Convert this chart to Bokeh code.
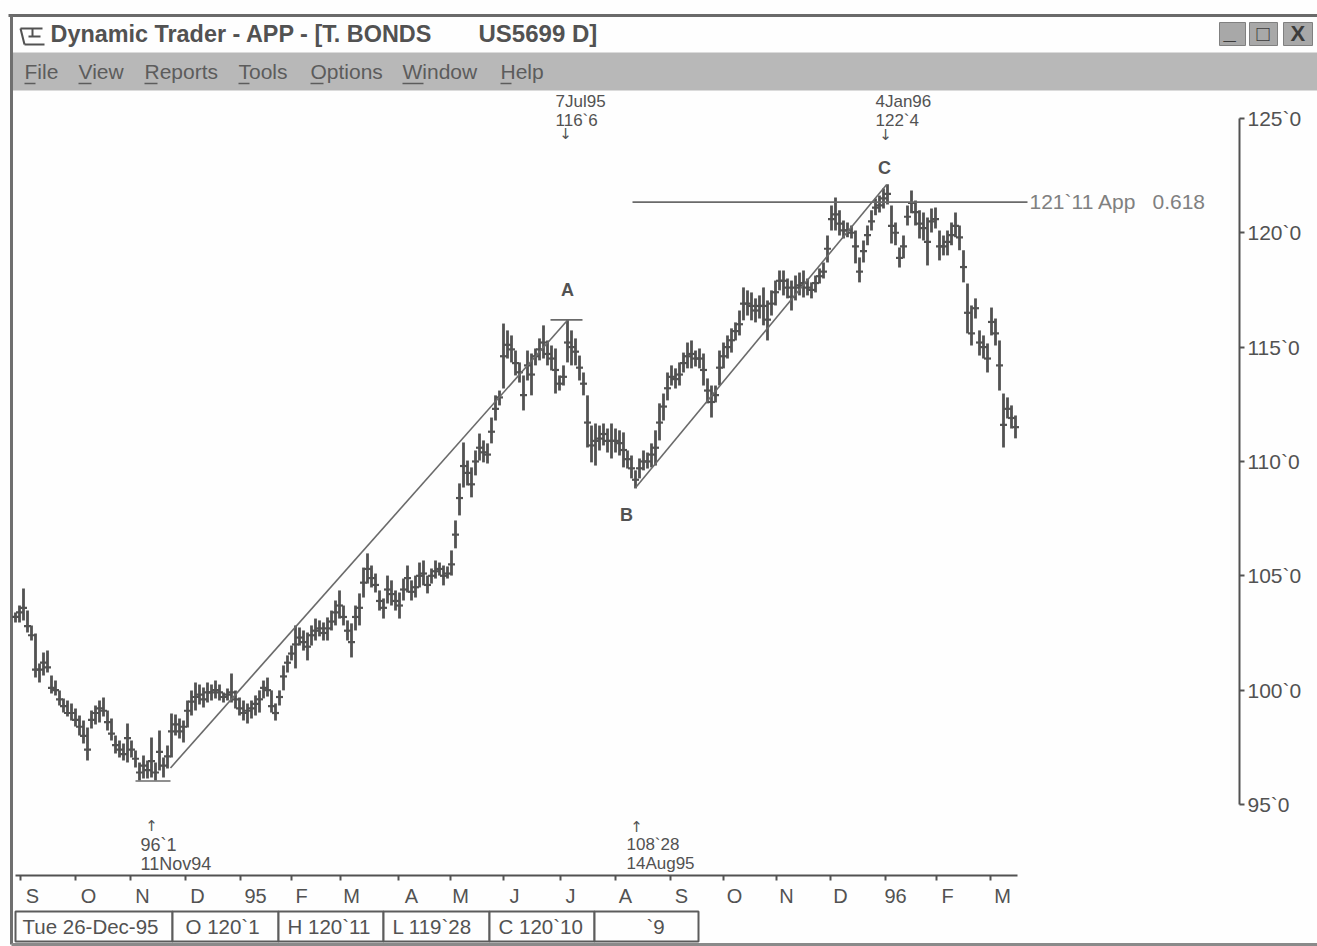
from bokeh.plotting import figure
from bokeh.models import Range1d, LinearAxis, FixedTicker
from bokeh.core.properties import value
from bokeh.embed import file_html
from bokeh.resources import INLINE

highs = [103.39,103.70,104.45,103.48,102.83,102.48,101.17,101.65,101.73,100.64,100.42,99.99,99.64,99.55,99.42,99.20,98.89,98.67,98.37,99.11,99.33,99.55,99.68,99.11,98.76,98.02,97.80,97.67,98.54,97.80,97.36,96.84,97.14,96.92,97.93,96.84,98.24,97.06,97.58,98.98,98.94,98.76,98.67,99.55,99.99,100.33,100.25,100.12,100.33,100.25,100.42,100.25,99.90,100.07,100.73,99.99,99.68,99.55,99.42,99.55,99.77,99.99,100.42,100.55,99.99,99.42,99.99,101.08,101.52,101.95,102.83,102.74,102.61,102.52,102.83,103.13,103.05,102.96,103.18,103.48,103.92,104.36,103.70,103.05,102.92,103.70,104.23,105.36,105.98,105.45,105.10,104.36,104.01,105.01,104.80,104.36,104.27,104.88,105.45,104.80,105.01,105.58,105.67,105.01,105.32,105.67,105.58,105.45,105.41,106.11,107.42,109.04,110.83,110.04,109.74,110.48,111.22,110.92,110.79,111.92,112.89,113.10,116.03,115.73,115.51,114.85,114.33,113.76,114.85,114.72,114.94,115.38,115.95,115.29,115.07,114.94,113.76,114.20,116.21,115.73,115.38,114.63,113.89,112.89,111.57,111.66,111.57,111.66,111.44,111.66,111.44,111.36,111.27,110.48,110.26,109.61,110.13,110.48,110.39,110.79,111.36,112.54,112.97,113.89,114.20,114.07,114.33,114.76,115.20,115.29,114.85,114.94,114.72,113.63,113.32,113.32,114.85,115.20,115.51,115.82,116.08,116.60,117.61,117.48,117.39,117.13,117.26,117.61,117.04,117.48,117.91,118.35,118.35,118.00,117.91,118.13,118.26,118.35,118.00,117.83,118.13,118.44,118.70,119.88,121.19,121.54,120.98,120.54,120.45,120.32,120.10,118.92,119.66,120.32,120.98,121.50,121.63,121.94,122.12,121.19,120.45,119.36,119.88,121.19,121.85,121.41,120.98,120.89,120.67,121.06,121.10,120.10,119.88,120.10,120.45,120.89,120.32,119.23,117.78,116.82,117.13,115.73,115.51,115.16,116.73,116.25,115.29,112.97,112.80,112.45,112.01]
lows = [102.96,102.96,103.05,102.52,102.17,100.55,100.33,100.64,100.77,99.85,99.77,99.33,99.02,98.85,98.67,98.41,98.02,97.67,96.92,98.32,98.50,98.59,98.85,98.24,97.80,97.23,97.06,96.92,96.84,97.06,96.62,96.05,96.14,96.14,96.18,96.05,96.49,96.18,96.57,97.06,98.02,97.89,97.71,98.37,98.89,99.11,99.37,99.24,99.46,99.55,99.64,99.55,99.46,99.55,99.46,99.20,98.89,98.67,98.54,98.76,98.89,99.02,99.64,99.72,99.02,98.67,99.33,99.99,100.77,101.30,100.95,101.95,101.73,101.30,101.95,102.17,102.35,102.17,102.17,102.61,102.83,103.13,102.83,102.17,101.43,102.61,102.83,104.05,104.66,104.49,104.27,103.48,103.13,103.79,103.70,103.48,103.13,103.92,104.27,103.92,104.05,104.49,104.58,104.23,104.66,104.88,105.01,104.58,104.88,105.01,106.20,107.64,108.86,108.95,108.43,109.39,110.04,109.96,109.91,110.79,111.79,112.45,113.19,114.50,114.33,113.76,113.45,112.23,113.54,112.89,114.20,114.42,114.50,114.20,113.98,112.97,113.10,113.32,114.33,114.20,114.20,113.54,112.89,110.61,109.96,109.82,110.48,110.70,110.39,110.13,110.39,110.26,109.74,109.69,109.26,108.82,109.26,109.61,109.69,109.74,109.82,110.92,111.79,112.67,113.32,113.19,113.32,113.89,114.07,114.07,114.15,114.07,113.32,112.54,111.92,112.58,113.32,114.07,114.50,114.76,115.29,115.51,116.17,116.38,116.17,116.08,116.25,115.95,115.29,116.38,116.82,117.48,117.26,117.13,116.60,117.04,117.26,117.17,117.26,117.13,117.39,117.78,118.00,118.70,120.10,120.10,119.88,119.75,119.80,119.75,118.66,117.83,118.70,119.45,120.10,120.76,120.89,121.06,121.24,119.53,119.45,118.48,118.88,120.32,120.85,120.32,119.75,119.66,118.57,120.01,120.19,118.79,119.01,119.01,119.45,119.80,119.23,117.83,115.60,115.07,116.25,114.63,114.50,113.89,115.51,115.07,113.10,110.61,111.88,111.44,111.01]
closes = [103.2,103.4,103.6,102.8,102.4,100.9,100.9,101.2,101.0,100.1,
          100.0,99.6,99.3,99.0,99.0,98.7,98.4,98.0,97.4,98.7,
          99.0,99.2,99.1,98.6,98.1,97.6,97.4,97.2,97.9,97.4,
          97.0,96.4,96.7,96.5,96.9,96.4,97.3,96.7,97.1,98.2,
          98.5,98.2,98.4,99.1,99.5,99.7,99.8,99.6,99.9,99.9,
          100.0,99.9,99.7,99.8,99.9,99.6,99.2,99.0,99.1,99.2,
          99.4,99.6,100.1,100.0,99.3,99.0,99.7,100.6,101.2,101.6,
          102.0,102.3,102.1,101.9,102.4,102.6,102.7,102.5,102.7,103.0,
          103.4,103.7,103.2,102.6,102.1,103.2,103.6,104.7,105.3,104.9,
          104.6,103.9,103.6,104.4,104.2,103.9,103.7,104.4,104.9,104.3,
          104.5,105.0,105.1,104.6,105.0,105.2,105.3,105.0,105.1,105.5,
          106.8,108.4,109.8,109.5,109.0,110.0,110.6,110.4,110.3,111.3,
          112.3,112.8,114.6,115.1,114.9,114.3,113.9,112.9,114.2,113.8,
          114.6,114.9,115.2,114.7,114.5,114.0,113.4,113.7,115.2,115.0,
          114.8,114.1,113.4,111.7,110.7,110.9,111.0,111.2,110.9,110.9,
          110.9,110.8,110.5,110.1,109.7,109.2,109.7,110.0,110.0,110.3,
          110.6,111.7,112.4,113.2,113.7,113.6,113.8,114.3,114.6,114.7,
          114.5,114.5,114.0,113.1,112.6,112.9,114.1,114.6,115.0,115.3,
          115.7,116.0,116.9,116.9,116.8,116.6,116.8,116.8,116.2,116.9,
          117.4,117.9,117.9,117.6,117.2,117.6,117.7,117.8,117.6,117.5,
          117.8,118.1,118.3,119.3,120.6,120.8,120.4,120.1,120.1,120.0,
          119.4,118.3,119.2,119.9,120.5,121.1,121.2,121.5,121.7,120.3,
          120.0,118.9,119.4,120.7,121.3,120.9,120.4,120.2,119.6,120.5,
          120.6,119.4,119.4,119.6,119.9,120.3,119.8,118.5,116.5,115.6,
          116.7,115.2,115.0,114.5,116.1,115.6,114.2,111.6,112.3,111.9,
          111.5]
bars = list(range(len(highs)))

price_ticks = [95, 100, 105, 110, 115, 120, 125]
price_labels = ["95`0", "100`0", "105`0", "110`0", "115`0", "120`0", "125`0"]
month_ticks = [1.25,15,28.75,42.5,56.25,69,81.25,95.75,108.75,122,136.25,150,163.75,177,190.25,203.75,217.5,230.25,243.75]
month_centres = [4.25,18.25,31.75,45.5,60,71.5,84,99,111.25,124.75,138.75,152.5,166.5,179.75,192.75,206.25,220,233,246.75]
month_labels = ["S","O","N","D","95","F","M","A","M","J","J","A","S","O","N","D","96","F","M"]

trend_a_x = [38.75, 138]; trend_a_y = [96.6, 116.17]
trend_c_x = [155, 217.75]; trend_c_y = [108.85, 122.1]
low_x = [30, 38.75]; low_y = [96.03, 96.03]
a_x = [133.75, 141.75]; a_y = [116.19, 116.19]
app_x = [154.25, 253]; app_y = [121.34, 121.34]

INK = "#525252"
FONT = value("Liberation Sans")

W, H = 1317, 946
p = figure(width=W, height=H, toolbar_location=None, output_backend="svg",
           x_axis_type=None, y_axis_type=None, min_border=0,
           x_range=Range1d((0-15)/4, (W-15)/4),
           y_range=Range1d(95+(804-H)/22.87, 95+804/22.87),
           outline_line_color=None, background_fill_color="#fefefe",
           border_fill_color="#fefefe")
p.grid.visible = False
p.extra_x_ranges["win"] = Range1d(0, W)
p.extra_y_ranges["win"] = Range1d(H, 0)
WIN = dict(x_range_name="win", y_range_name="win")

# window chrome
p.quad(left=[11], right=[W], top=[52], bottom=[90], fill_color="#b8b8b8", line_color=None, **WIN)
p.segment(x0=[8], y0=[15], x1=[W], y1=[15], line_color="#6a6a6a", line_width=3, **WIN)
p.segment(x0=[11], y0=[15], x1=[11], y1=[944], line_color="#6f6f6f", line_width=3, **WIN)
p.segment(x0=[11], y0=[944], x1=[W], y1=[944], line_color="#8a8a8a", line_width=3, **WIN)
p.segment(x0=[20,20,24,32,28], y0=[28,28,44,28,36], x1=[42,24,44,32,40], y1=[28,44,44,36,36], line_color=INK, line_width=2, **WIN)

def text(xs, ys, ts, size, color=INK, style="normal", align="left", font=FONT):
    p.text(x=xs, y=ys, text=ts, text_font=font, text_font_size=f"{size}px",
           text_font_style=style, text_color=color, text_align=align,
           text_baseline="middle", **WIN)

text([50], [33], ["Dynamic Trader - APP - [T. BONDS"], 23.4, style="bold")
text([478], [33], ["US5699 D]"], 24, style="bold")
text([24,78,144,238,310,402,500], [71]*7, ["File","View","Reports","Tools","Options","Window","Help"], 21, color="#5c5c5c")
p.segment(x0=[24,78,144,238,310,402,500], y0=[83]*7, x1=[35,91,157,249,323,423,511], y1=[83]*7, line_color="#5c5c5c", line_width=1.5, **WIN)

# window buttons
p.quad(left=[1219,1249,1283], right=[1245,1277,1312], top=[22]*3, bottom=[45]*3,
       fill_color="#a8a8a8", line_color="#808080", **WIN)
text([1223,1256,1290], [31,33,33], ["_","□","X"], 22, style="bold", color="#3c3c3c")

# bars
p.segment(x0=bars, y0=lows, x1=bars, y1=highs, line_color=INK, line_width=2.8)
p.scatter(x=bars, y=closes, marker="dash", size=7, line_color=INK, line_width=2.2)

# drawn lines
for xs, ys in [(trend_a_x, trend_a_y), (trend_c_x, trend_c_y), (low_x, low_y), (a_x, a_y), (app_x, app_y)]:
    p.line(xs, ys, line_color="#6a6a6a", line_width=1.6)

# annotations
text([555,555,875,875], [101,120,101,120], ["7Jul95","116`6","4Jan96","122`4"], 17)
ARROW = value("DejaVu Sans")
text([565,885], [133,134], ["↓","↓"], 15, align="center", font=ARROW)
text([151,636], [825,826], ["↑","↑"], 15, align="center", font=ARROW)
text([140,140], [844,863], ["96`1","11Nov94"], 18)
text([626,626], [844,863], ["108`28","14Aug95"], 17)
text([567,884,626], [289,167,514], ["A","C","B"], 18, style="bold", align="center")
text([1029,1152], [201,201], ["121`11 App","0.618"], 21, color="#808080")

# status boxes
box_l = [15,172,278,383,489,594]
box_r = [172,278,383,489,594,698]
p.quad(left=box_l, right=box_r, top=[911]*6, bottom=[941]*6, fill_color="#fefefe", line_color="#5c5c5c", line_width=2, **WIN)
text([22,185,287,392,498,646], [926]*6, ["Tue 26-Dec-95","O 120`1","H 120`11","L 119`28","C 120`10","`9"], 20.5)

# axes
ya = LinearAxis(fixed_location=(1239-15)/4, bounds=(95,125),
                ticker=FixedTicker(ticks=price_ticks),
                major_label_overrides=dict(zip(price_ticks, price_labels)),
                major_tick_out=5, major_tick_in=0, minor_tick_line_color=None,
                major_label_standoff=3, major_label_text_font="Liberation Sans",
                major_label_text_font_size="21px", major_label_text_color=INK,
                axis_line_color=INK, axis_line_width=2, major_tick_line_color=INK, major_tick_line_width=2)
p.add_layout(ya, "right")

axis_price = 95+(804-875)/22.87
xa = LinearAxis(fixed_location=axis_price, bounds=(0,250.5),
                ticker=FixedTicker(ticks=month_centres, minor_ticks=month_ticks),
                major_label_overrides=dict(zip(month_centres, month_labels)),
                major_tick_out=0, major_tick_in=0, major_tick_line_color=None,
                minor_tick_out=5, minor_tick_in=0, minor_tick_line_color=INK, minor_tick_line_width=2,
                axis_line_color=INK, axis_line_width=2,
                major_label_standoff=4, major_label_text_font="Liberation Sans",
                major_label_text_font_size="20px", major_label_text_color=INK)
p.add_layout(xa, "below")

open("out.html", "w").write(file_html(p, INLINE))
